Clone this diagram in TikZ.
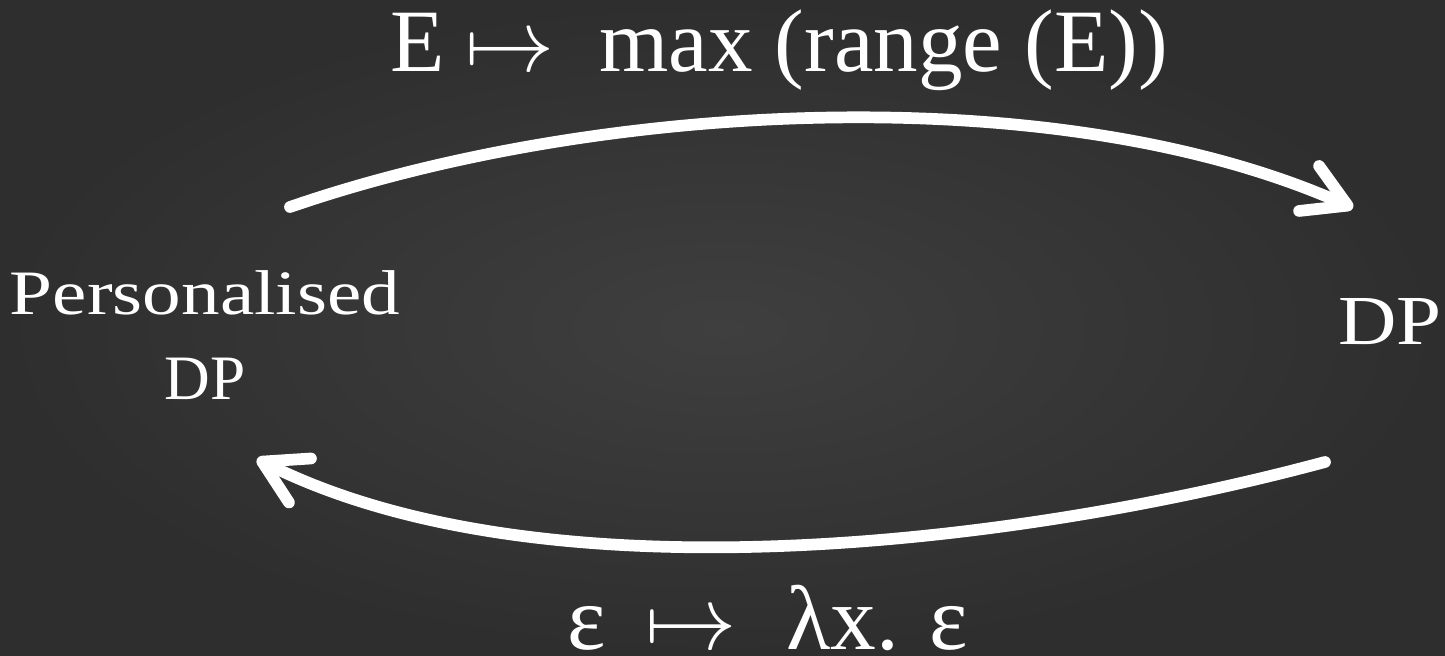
\documentclass[tikz,border=0pt]{standalone}
\usepackage{graphicx}
\usepackage{fontspec}
\setmainfont{Liberation Serif}
\newfontfamily\wideserif{Liberation Serif}[FakeStretch=1.22]
\newfontfamily\midserif{Liberation Serif}[FakeStretch=1.15]
\DeclareFontShape{OMS}{cmsy}{m}{n}{<->cmsy10}{}
\DeclareFontShape{OML}{cmm}{m}{it}{<->cmmi10}{}
\DeclareFontShape{OT1}{cmr}{m}{n}{<->cmr10}{}
\usetikzlibrary{arrows.meta}
\definecolor{bgin}{HTML}{3F3F3F}
\definecolor{bgout}{HTML}{2E2E2E}
\newcommand{\mymapsto}[1]{\scalebox{#1}[1]{$\mapsto$}}
\begin{document}
\begin{tikzpicture}[x=0.03cm,y=-0.03cm,
  txt/.style={text=white,inner sep=0pt},
  conn/.style={draw=white,line width=10pt,line cap=round,
    -{Straight Barb[round,length=36pt,width=42pt]}}]
\shade[inner color=bgin,outer color=bgout] (0,0) rectangle (1445,656);
\useasboundingbox (0,0) rectangle (1445,656);
\node[txt,align=center,anchor=south,font=\fontsize{54}{72.5}\selectfont] (pdp) at (205,400) {{\wideserif Personalised}\\DP};
\node[txt,anchor=base west,font=\fontsize{60}{70}\selectfont\midserif] (dp) at (1338,345) {DP};
\node[txt,anchor=base west,font=\fontsize{76}{90}\selectfont] (toplbl) at (390,72) {E\hspace{18pt}\mymapsto{1.0}\hspace{38pt}max (range (E))};
\node[txt,anchor=base west,font=\fontsize{78}{90}\selectfont] (botlbl) at (567,649) {ε\hspace{34pt}\mymapsto{1.0}\hspace{42pt}λx. ε};
\coordinate (s1) at (290,207);
\coordinate (e1) at (1353,208);
\coordinate (s2) at (1325,462);
\coordinate (e2) at (257,459);
\draw[conn] (s1) .. controls (597,101) and (1056,76) .. (e1);
\draw[conn] (s2) .. controls (1016,545) and (543,602) .. (e2);
\end{tikzpicture}
\end{document}
